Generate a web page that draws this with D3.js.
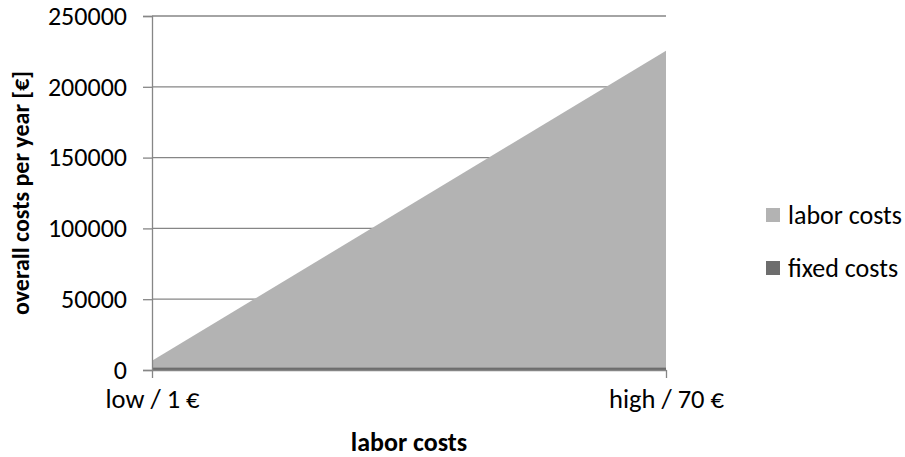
<!DOCTYPE html>
<html>
<head>
<meta charset="utf-8">
<script src="https://cdn.jsdelivr.net/npm/d3@7"></script>
<style>
  html, body { margin: 0; padding: 0; background: #ffffff; }
  svg { display: block; font-family: Carlito, Lato, "Open Sans", sans-serif; }
</style>
</head>
<body>
<svg id="chart" width="905" height="457"></svg>
<script>
// Categories on the x axis (hourly wage scenarios)
const categories = ["low / 1 €", "high / 70 €"];
// Stacked series, bottom to top
const fixedCosts = [2000, 2000];
const laborCosts = [4500, 223500];
const seriesNames = ["fixed costs", "labor costs"];
// Y axis ticks
const yTicks = [0, 50000, 100000, 150000, 200000, 250000];

const colors = { "fixed costs": "#6d6d6d", "labor costs": "#b3b3b3" };
const gridColor = "#868686";
const fontFamily = "Carlito, Lato, 'Open Sans', sans-serif";

const svg = d3.select("#chart");
const margin = { left: 152, right: 239, top: 16, bottom: 87 };
const W = 905, H = 457;

const x = d3.scalePoint().domain(categories).range([margin.left, W - margin.right]);
const y = d3.scaleLinear().domain([0, 250000]).range([H - margin.bottom, margin.top]);

const rows = categories.map((c, i) => ({ cat: c, "fixed costs": fixedCosts[i], "labor costs": laborCosts[i] }));
const stacked = d3.stack().keys(seriesNames)(rows);

// Horizontal gridlines
svg.append("g")
  .selectAll("line")
  .data(yTicks.filter(t => t > 0))
  .join("line")
  .attr("x1", margin.left).attr("x2", W - margin.right)
  .attr("y1", d => y(d)).attr("y2", d => y(d))
  .attr("stroke", gridColor).attr("stroke-width", 1.3);

// Stacked areas
const area = d3.area()
  .x(d => x(d.data.cat))
  .y0(d => y(d[0]))
  .y1(d => y(d[1]));

svg.append("g")
  .selectAll("path")
  .data(stacked)
  .join("path")
  .attr("fill", d => colors[d.key])
  .attr("d", area);

// Y axis
const yAxis = svg.append("g")
  .attr("transform", `translate(${margin.left},0)`)
  .call(d3.axisLeft(y).tickValues(yTicks).tickFormat(d3.format("d")).tickSize(9).tickPadding(16))
  .attr("font-family", fontFamily).attr("font-size", 26);
yAxis.select(".domain").attr("stroke", gridColor).attr("stroke-width", 1.3);
yAxis.selectAll(".tick line").attr("stroke", gridColor).attr("stroke-width", 1.3);
yAxis.selectAll(".tick text").attr("fill", "#000");

// X axis
const xAxis = svg.append("g")
  .attr("transform", `translate(0,${y(0)})`)
  .call(d3.axisBottom(x).tickSize(8).tickSizeOuter(0).tickPadding(11))
  .attr("font-family", fontFamily).attr("font-size", 26.5);
xAxis.select(".domain").attr("stroke", gridColor).attr("stroke-width", 1.3);
xAxis.selectAll(".tick line").attr("stroke", gridColor).attr("stroke-width", 1.3);
xAxis.selectAll(".tick text").attr("fill", "#000");

// Axis titles
svg.append("text")
  .attr("x", (margin.left + W - margin.right) / 2)
  .attr("y", 451)
  .attr("text-anchor", "middle")
  .attr("font-size", 26)
  .attr("font-weight", "bold")
  .text("labor costs");

svg.append("text")
  .attr("transform", `translate(29,${(y(0) + y(250000)) / 2}) rotate(-90)`)
  .attr("text-anchor", "middle")
  .attr("font-size", 24)
  .attr("font-weight", "bold")
  .text("overall costs per year [€]");

// Legend (top series first)
const legendItems = seriesNames.slice().reverse();
const legend = svg.append("g");
legendItems.forEach((name, i) => {
  const ly = 215 + i * 53;
  legend.append("rect")
    .attr("x", 766).attr("y", ly - 7)
    .attr("width", 14).attr("height", 14)
    .attr("fill", colors[name]);
  legend.append("text")
    .attr("x", 788).attr("y", ly)
    .attr("dy", "0.35em")
    .attr("font-size", 26)
    .text(name);
});
</script>
</body>
</html>
